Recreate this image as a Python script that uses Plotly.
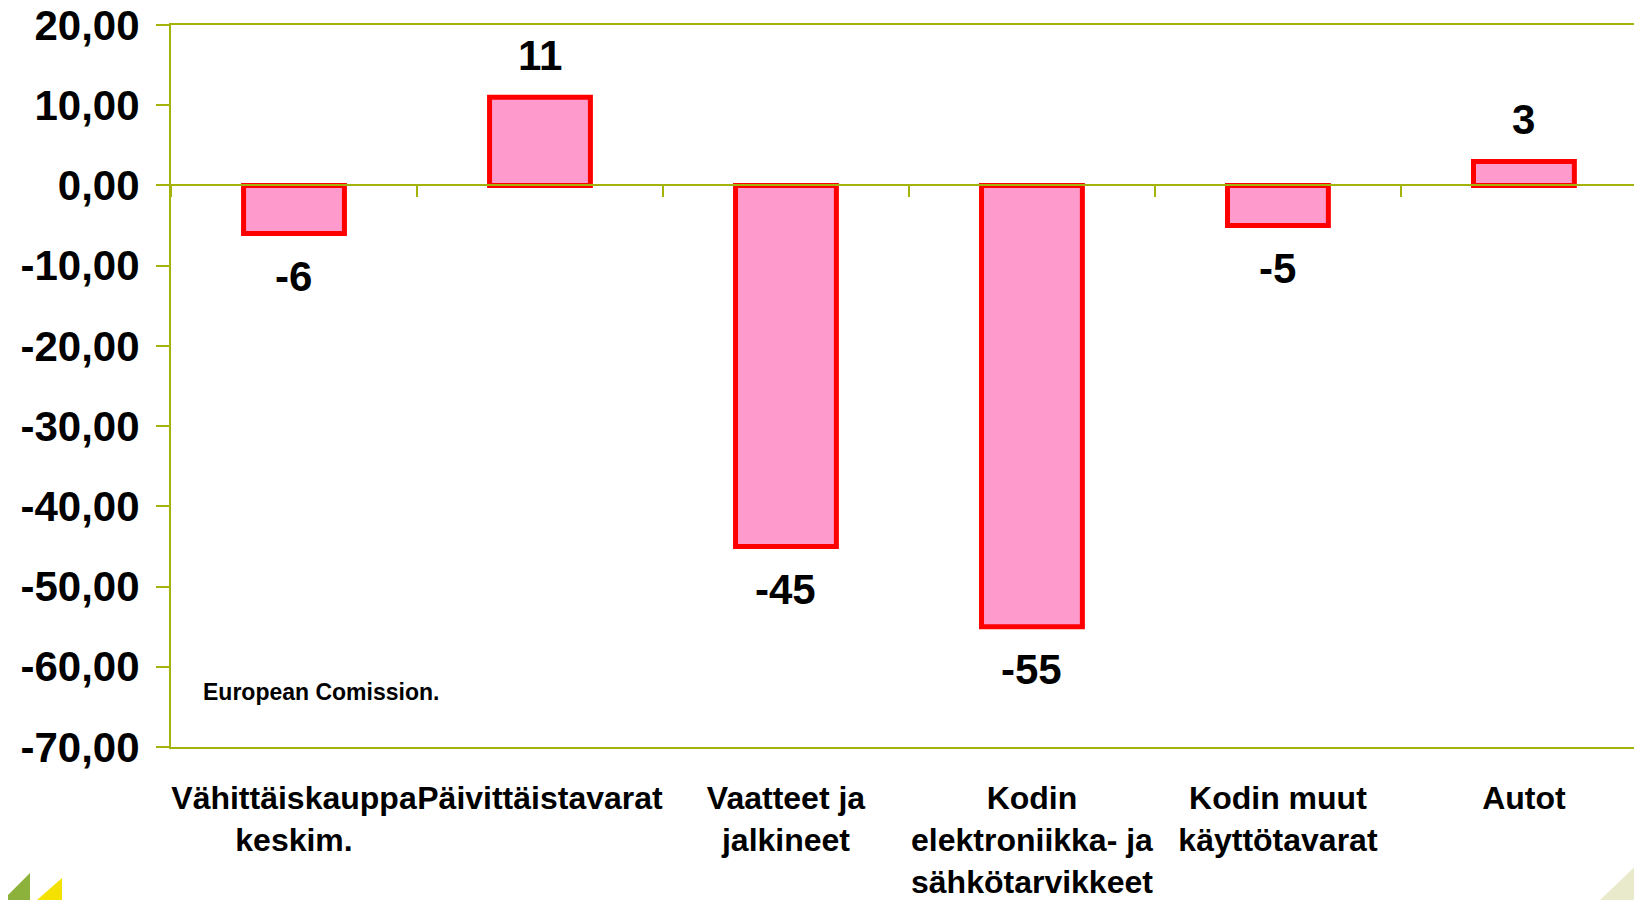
import plotly.graph_objects as go

categories = ["Vähittäiskauppa<br>keskim.", "Päivittäistavarat", "Vaatteet ja<br>jalkineet",
              "Kodin<br>elektroniikka- ja<br>sähkötarvikkeet", "Kodin muut<br>käyttötavarat", "Autot"]
values = [-6, 11, -45, -55, -5, 3]
value_labels = ["-6", "11", "-45", "-55", "-5", "3"]
ytick_vals = [20, 10, 0, -10, -20, -30, -40, -50, -60, -70]
ytick_text = ["20,00", "10,00", "0,00", "-10,00", "-20,00", "-30,00", "-40,00", "-50,00", "-60,00", "-70,00"]
source_text = "European Comission."

OFF = 8  # default page body margin
W, H = 1642 - OFF, 900 - OFF
L, R, T, B = 171 - OFF, 0, 25 - OFF, 153
OLIVE = "#A4B30A"
FONT = "Liberation Sans, Arial, sans-serif"
ymin, ymax = -70, 20

def px(x):
    return (x - OFF - L) / (W - L - R)

def py(y):
    return (H - B - (y - OFF)) / (H - B - T)

fig = go.Figure()
fig.add_trace(go.Bar(
    x=categories, y=values, xaxis="x", yaxis="y",
    marker=dict(color="#FF9ACC", line=dict(color="#FF0000", width=5)),
    width=0.41, hoverinfo="skip", showlegend=False,
))
# invisible trace to carry the zero-level axis with boundary ticks
fig.add_trace(go.Scatter(
    x=categories, y=values, xaxis="x2", yaxis="y", mode="markers",
    marker=dict(opacity=0), hoverinfo="skip", showlegend=False,
))

annotations = []
for c, v, t in zip(categories, values, value_labels):
    annotations.append(dict(
        x=c, y=v, xref="x", yref="y", text="<b>%s</b>" % t, showarrow=False,
        yshift=42 if v >= 0 else -43, font=dict(family=FONT, size=42, color="black"),
    ))
annotations.append(dict(
    x=px(201), y=-63.2, xref="paper", yref="y", xanchor="left", text="<b>%s</b>" % source_text,
    showarrow=False, font=dict(family=FONT, size=23, color="black"),
))

shapes = [
    dict(type="path", xref="paper", yref="paper", layer="below",
         path="M %f %f L %f %f L %f %f Z" % (px(3), py(900), px(30), py(873), px(30), py(900)),
         fillcolor="#8DB23B", line=dict(width=0)),
    dict(type="path", xref="paper", yref="paper", layer="below",
         path="M %f %f L %f %f L %f %f Z" % (px(37), py(900), px(62), py(878), px(62), py(900)),
         fillcolor="#F5E100", line=dict(width=0)),
    dict(type="path", xref="paper", yref="paper", layer="below",
         path="M %f %f L %f %f L %f %f Z" % (px(1600), py(900), px(1642), py(860), px(1642), py(900)),
         fillcolor="#E9E9CC", line=dict(width=0)),
]

xr = [-0.5, 5.48]
fig.update_layout(
    width=W, height=H,
    margin=dict(l=L, r=R, t=T, b=B, pad=0, autoexpand=False),
    paper_bgcolor="white", plot_bgcolor="white",
    font=dict(family=FONT, color="black"),
    bargap=0.59,
    xaxis=dict(
        type="category", range=xr, showgrid=False, zeroline=False, automargin=False,
        showline=True, linecolor=OLIVE, linewidth=2, mirror=True, tickangle=0,
        ticks="", tickfont=dict(family=FONT, size=32, color="black", weight="bold"),
        ticklabelstandoff=22, ticklabeloverflow="allow",
    ),
    xaxis2=dict(
        type="category", range=xr, overlaying="x", anchor="free", automargin=False,
        position=(0 - ymin) / (ymax - ymin),
        showgrid=False, zeroline=False, showline=True, linecolor=OLIVE, linewidth=2,
        ticks="outside", ticklen=11, tickwidth=2, tickcolor=OLIVE,
        tickson="boundaries", showticklabels=False,
    ),
    yaxis=dict(
        range=[ymin, ymax], tickvals=ytick_vals, ticktext=ytick_text, automargin=False,
        showgrid=False, zeroline=False, showline=True, linecolor=OLIVE, linewidth=2,
        ticks="outside", ticklen=13, tickwidth=2, tickcolor=OLIVE,
        tickfont=dict(family=FONT, size=42, color="black", weight="bold"),
        ticklabelstandoff=8, ticklabeloverflow="allow",
    ),
    annotations=annotations,
    shapes=shapes,
)

fig.write_html("out.html")
